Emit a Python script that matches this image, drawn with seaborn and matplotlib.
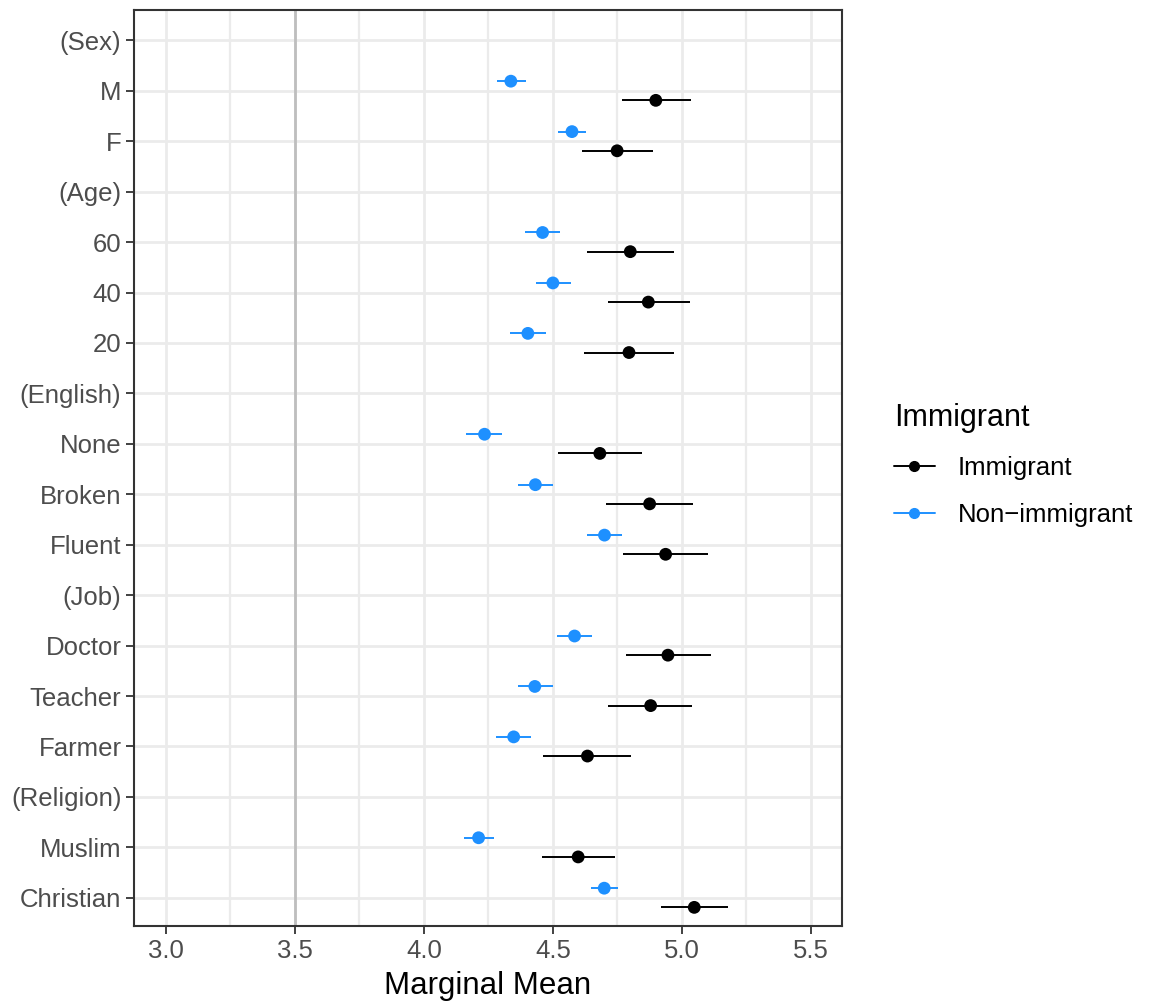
import matplotlib

matplotlib.use("Agg")
import matplotlib.pyplot as plt
from matplotlib.lines import Line2D
from matplotlib.ticker import MultipleLocator
import numpy as np
import pandas as pd
import seaborn as sns

# y-axis rows, top to bottom (headings in brackets carry no estimate)
ROWS = ["(Sex)", "M", "F", "(Age)", "60", "40", "20", "(English)", "None", "Broken",
        "Fluent", "(Job)", "Doctor", "Teacher", "Farmer", "(Religion)", "Muslim", "Christian"]

LEVELS = ["M", "F", "60", "40", "20", "None", "Broken", "Fluent", "Doctor", "Teacher",
          "Farmer", "Muslim", "Christian"]

imm_est = [4.899, 4.749, 4.800, 4.870, 4.795, 4.682, 4.875, 4.937, 4.946, 4.879, 4.634, 4.598, 5.048]
imm_lo = [4.766, 4.614, 4.633, 4.713, 4.620, 4.518, 4.707, 4.771, 4.782, 4.715, 4.462, 4.457, 4.921]
imm_hi = [5.035, 4.888, 4.968, 5.030, 4.970, 4.846, 5.043, 5.103, 5.112, 5.041, 4.802, 4.739, 5.177]

non_est = [4.337, 4.574, 4.460, 4.500, 4.403, 4.235, 4.432, 4.700, 4.584, 4.430, 4.348, 4.212, 4.699]
non_lo = [4.282, 4.519, 4.391, 4.434, 4.335, 4.165, 4.366, 4.633, 4.517, 4.366, 4.278, 4.156, 4.646]
non_hi = [4.394, 4.630, 4.528, 4.570, 4.472, 4.304, 4.501, 4.766, 4.652, 4.500, 4.416, 4.271, 4.753]

GROUPS = ["Immigrant", "Non\u2212immigrant"]
PALETTE = {"Immigrant": "#000000", "Non\u2212immigrant": "#1E90FF"}
DODGE = {"Immigrant": 0.19, "Non\u2212immigrant": -0.19}

sns.set_theme(style="white")
plt.rcParams["font.family"] = ["Liberation Sans", "DejaVu Sans"]

frames = []
for grp, est, lo, hi in [(GROUPS[0], imm_est, imm_lo, imm_hi), (GROUPS[1], non_est, non_lo, non_hi)]:
    frames.append(pd.DataFrame({"level": LEVELS, "est": est, "lo": lo, "hi": hi, "group": grp}))
df = pd.concat(frames, ignore_index=True)
df["y"] = [ROWS.index(l) + DODGE[g] for l, g in zip(df["level"], df["group"])]

fig = plt.figure(figsize=(11.5, 10.06), dpi=100)
ax = fig.add_axes([0.1165, 0.0795, 0.6155, 0.9105])

ax.axvline(3.5, color="#BEBEBE", lw=2.0, zorder=1.5)

for grp in GROUPS:
    sub = df[df["group"] == grp]
    ax.hlines(sub["y"], sub["lo"], sub["hi"], color=PALETTE[grp], lw=1.4, zorder=2)

sns.scatterplot(data=df, x="est", y="y", hue="group", palette=PALETTE, s=85,
                edgecolor="none", legend=False, ax=ax, zorder=3)

ax.set_xlim(2.876, 5.62)
ax.set_ylim(17.56, -0.6)
ax.xaxis.set_major_locator(MultipleLocator(0.5))
ax.xaxis.set_minor_locator(MultipleLocator(0.25))
ax.set_xticklabels([f"{v:.1f}" for v in ax.get_xticks()])
ax.set_yticks(np.arange(len(ROWS)))
ax.set_yticklabels(ROWS)

ax.grid(True, which="major", color="#EBEBEB", lw=2.0, zorder=0)
ax.grid(True, which="minor", axis="x", color="#EBEBEB", lw=1.6, zorder=0)
ax.set_axisbelow(True)
for sp in ax.spines.values():
    sp.set_color("#333333")
    sp.set_linewidth(1.5)

ax.tick_params(axis="both", which="major", length=6, width=1.3, color="#333333",
               labelsize=18.5, labelcolor="#4D4D4D", pad=3, left=True, bottom=True)
ax.tick_params(axis="x", which="minor", length=0)

ax.set_xlabel("Marginal Mean", fontsize=22.5, color="black", labelpad=6)
ax.set_ylabel("")

handles = [Line2D([0], [0], color=PALETTE[g], lw=1.4, marker="o", markersize=7) for g in GROUPS]
leg = fig.legend(handles, GROUPS, title="Immigrant", loc="center left",
                 bbox_to_anchor=(0.757, 0.538), frameon=False, fontsize=18.5,
                 title_fontsize=22, handlelength=1.6, labelspacing=0.9, handletextpad=0.9,
                 labelcolor="black")
leg.get_title().set_color("black")
leg._legend_box.align = "left"

fig.savefig("out.png", dpi=100)
